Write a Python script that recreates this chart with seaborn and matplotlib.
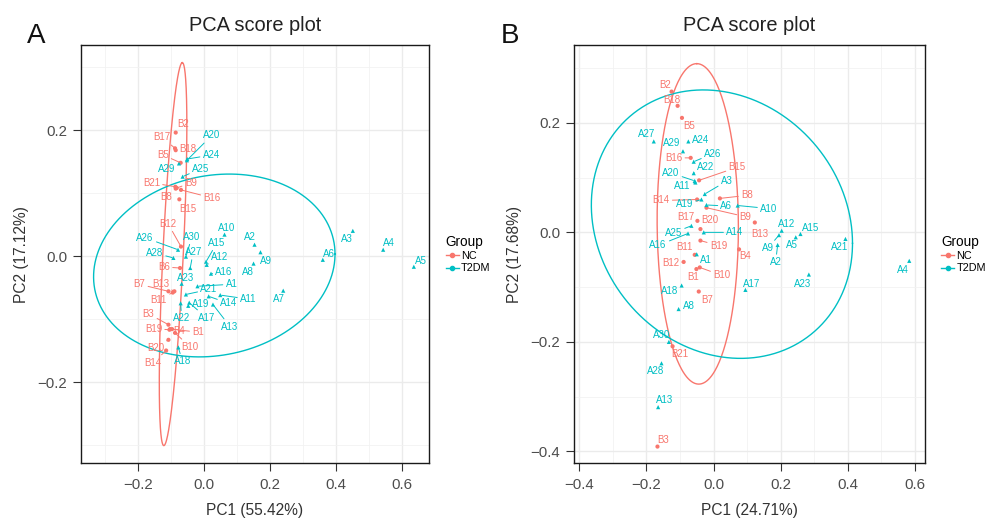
import numpy as np
import pandas as pd
import seaborn as sns
import matplotlib.pyplot as plt
from matplotlib.lines import Line2D

# ---- panel A scores (PC1 55.42%, PC2 17.12%)
a_nc_names = ['B%d' % i for i in range(1, 22)]
a_nc_pc1 = [-0.104, -0.087, -0.109, -0.098, -0.072, -0.074, -0.109, -0.087, -0.084, -0.089, -0.096,
            -0.071, -0.091, -0.116, -0.076, -0.071, -0.089, -0.087, -0.106, -0.109, -0.088]
a_nc_pc2 = [-0.116, 0.196, -0.109, -0.116, 0.148, -0.019, -0.056, 0.107, 0.108, -0.122, -0.058,
            0.015, -0.056, -0.150, 0.090, 0.105, 0.171, 0.168, -0.117, -0.133, 0.110]
a_t2_names = ['A%d' % i for i in range(1, 31)]
a_t2_pc1 = [-0.021, 0.152, 0.450, 0.542, 0.635, 0.359, 0.239, 0.149, 0.170, 0.061, 0.048, 0.007,
            0.026, 0.013, 0.005, 0.020, -0.046, -0.079, -0.049, -0.053, -0.056, -0.072, -0.069,
            -0.052, -0.066, -0.080, -0.043, -0.094, -0.077, -0.056]
a_t2_pc2 = [-0.048, 0.018, 0.040, 0.010, -0.017, -0.006, -0.055, -0.012, 0.006, 0.034, -0.062,
            -0.014, -0.077, -0.064, -0.009, -0.028, -0.074, -0.145, -0.079, 0.152, -0.061, -0.075,
            -0.044, 0.154, 0.126, 0.010, -0.019, -0.003, 0.147, -0.001]

# ---- panel B scores (PC1 24.71%, PC2 17.68%)
b_nc_names = ['B1', 'B2', 'B3', 'B4', 'B5', 'B7', 'B8', 'B9', 'B10', 'B11', 'B12', 'B13', 'B14',
              'B15', 'B16', 'B17', 'B18', 'B19', 'B20', 'B21']
b_nc_pc1 = [-0.051, -0.125, -0.167, 0.076, -0.094, -0.044, 0.019, -0.021, -0.041, -0.056, -0.089,
            0.123, -0.049, -0.043, -0.068, -0.048, -0.107, -0.039, -0.039, -0.122]
b_nc_pc2 = [-0.067, 0.257, -0.391, -0.031, 0.209, -0.108, 0.062, 0.045, -0.064, -0.041, -0.054,
            0.018, 0.060, 0.095, 0.136, 0.021, 0.231, -0.015, 0.006, -0.208]
b_t2_names = ['A1', 'A2', 'A3', 'A4', 'A5', 'A6', 'A8', 'A9', 'A10', 'A11', 'A12', 'A13', 'A14',
              'A15', 'A16', 'A17', 'A18', 'A19', 'A20', 'A21', 'A22', 'A23', 'A24', 'A25', 'A26',
              'A27', 'A28', 'A29', 'A30']
b_t2_pc1 = [-0.050, 0.191, -0.026, 0.583, 0.245, -0.021, -0.104, 0.195, 0.072, -0.054, 0.203,
            -0.165, -0.029, 0.259, -0.076, 0.095, -0.095, -0.036, -0.056, 0.393, -0.059, 0.284,
            -0.075, -0.066, -0.059, -0.178, -0.155, -0.091, -0.133]
b_t2_pc2 = [-0.040, -0.023, 0.070, -0.052, -0.009, 0.050, -0.140, -0.005, 0.049, 0.091, 0.003,
            -0.319, 0.000, -0.003, -0.002, -0.105, -0.097, 0.060, 0.094, -0.012, 0.108, -0.077,
            0.166, 0.012, 0.129, 0.166, -0.239, 0.148, -0.200]

# 95% ellipses: centre, semi-axis vector u, conjugate vector v
ell_a_nc = [(-0.095, 0.003), (0.028, 0.304), (0.031, 0.0)]
ell_a_t2 = [(0.030, -0.015), (0.366, 0.018), (0.0, 0.144)]
ell_b_nc = [(-0.047, 0.0155), (-0.003, 0.2925), (0.121, 0.0)]
ell_b_t2 = [(0.025, 0.015), (0.389, -0.035), (0.0, 0.2425)]

# label nudges in pixels (dx right, dy up) -- layout only
nudge_a = {
    'B1': (28, -3), 'B2': (7, 9), 'B3': (-20, 11), 'B4': (7, -2), 'B5': (-18, 8), 'B6': (-16, 1),
    'B7': (-29, 7), 'B8': (-10, -8), 'B9': (14, 5), 'B10': (15, -14), 'B11': (-14, -7),
    'B12': (-13, 23), 'B13': (-14, 7), 'B14': (-13, -12), 'B15': (8, -10), 'B16': (31, -8),
    'B17': (-13, 11), 'B18': (12, 1), 'B19': (-16, 1), 'B20': (-13, -8), 'B21': (-24, 4),
    'A1': (34, 2), 'A2': (-5, 8), 'A3': (-6, -8), 'A4': (6, 7), 'A5': (7, 6), 'A6': (6, 6),
    'A7': (-4, -8), 'A8': (-6, -8), 'A9': (6, -9), 'A10': (2, 7), 'A11': (28, -4), 'A12': (13, 8),
    'A13': (17, -22), 'A14': (20, -7), 'A15': (11, 19), 'A16': (13, 2), 'A17': (17, -15),
    'A18': (4, -14), 'A19': (12, 2), 'A20': (25, 25), 'A21': (23, 5), 'A22': (1, -15),
    'A23': (4, 6), 'A24': (24, 4), 'A25': (18, 8), 'A26': (-33, 12), 'A27': (3, 16),
    'A28': (-19, 5), 'A29': (-12, -6), 'A30': (6, 20),
}
nudge_b = {
    'B1': (-3, -8), 'B2': (-6, 7), 'B3': (6, 7), 'B4': (6, -7), 'B5': (7, -8), 'B7': (8, -8),
    'B8': (27, 3), 'B9': (39, -9), 'B10': (22, -8), 'B11': (-10, 8), 'B12': (-13, -1),
    'B13': (5, -11), 'B14': (-36, -1), 'B15': (38, 13), 'B16': (-17, 0), 'B17': (-12, 4),
    'B18': (-6, 6), 'B19': (18, -5), 'B20': (9, 9), 'B21': (7, -8),
    'A1': (9, -6), 'A2': (-2, -17), 'A3': (22, 13), 'A4': (-6, -9), 'A5': (-4, -8), 'A6': (20, -1),
    'A8': (10, 3), 'A9': (-11, -13), 'A10': (31, -3), 'A11': (-13, -3), 'A12': (5, 7),
    'A13': (6, 7), 'A14': (31, 0), 'A15': (10, 6), 'A16': (-30, -12), 'A17': (6, 6),
    'A18': (-12, -5), 'A19': (-17, -5), 'A20': (-24, 8), 'A21': (-6, -8), 'A22': (12, 6),
    'A23': (-6, -9), 'A24': (12, 1), 'A25': (-18, -7), 'A26': (19, 8), 'A27': (-7, 7),
    'A28': (-6, -8), 'A29': (-11, 8), 'A30': (-7, 7),
}

colors = {'NC': '#F8766D', 'T2DM': '#00BFC4'}
font = ['Liberation Sans', 'DejaVu Sans']


def make_df(nc_names, nc_x, nc_y, t2_names, t2_x, t2_y):
    nc = pd.DataFrame({'name': nc_names, 'PC1': nc_x, 'PC2': nc_y, 'Group': 'NC'})
    t2 = pd.DataFrame({'name': t2_names, 'PC1': t2_x, 'PC2': t2_y, 'Group': 'T2DM'})
    return pd.concat([nc, t2], ignore_index=True)


def draw_ellipse(ax, params, color):
    (cx, cy), (ux, uy), (vx, vy) = params
    t = np.linspace(0, 2 * np.pi, 300)
    ax.plot(cx + ux * np.cos(t) + vx * np.sin(t), cy + uy * np.cos(t) + vy * np.sin(t),
            color=color, lw=1.0, zorder=2)


def panel(ax, df, nudges, ells, xlim, ylim, xmaj, ymaj, xlab, ylab):
    ax.set_facecolor('white')
    draw_ellipse(ax, ells[0], colors['NC'])
    draw_ellipse(ax, ells[1], colors['T2DM'])
    sns.scatterplot(data=df, x='PC1', y='PC2', hue='Group', style='Group', palette=colors,
                    markers={'NC': 'o', 'T2DM': '^'}, s=9, linewidth=0, legend=False,
                    ax=ax, zorder=3)
    for _, r in df.iterrows():
        dx, dy = nudges.get(r['name'], (6, 6))
        c = colors[r['Group']]
        arrow = None
        if np.hypot(dx, dy) > 13:
            arrow = dict(arrowstyle='-', color=c, lw=0.7, shrinkA=0, shrinkB=1)
        ax.annotate(r['name'], (r['PC1'], r['PC2']), xytext=(dx * 0.72, dy * 0.72),
                    textcoords='offset points', ha='center', va='center', fontsize=7,
                    color=c, family=font, arrowprops=arrow, zorder=4)
    ax.set_xlim(xlim)
    ax.set_ylim(ylim)
    ax.set_xticks(xmaj)
    ax.set_yticks(ymaj)
    xs = np.round(np.arange(xmaj[0] - 0.1, xlim[1], 0.2), 2)
    ys = np.round(np.arange(ymaj[0] - 0.1, ylim[1], 0.2), 2)
    ax.set_xticks([v for v in xs if xlim[0] < v < xlim[1]], minor=True)
    ax.set_yticks([v for v in ys if ylim[0] < v < ylim[1]], minor=True)
    ax.set_xticklabels(['\u22120.%d' % round(abs(v) * 10) if v < 0 else '%.1f' % v for v in xmaj])
    ax.set_yticklabels(['\u22120.%d' % round(abs(v) * 10) if v < 0 else '%.1f' % v for v in ymaj])
    ax.grid(True, which='major', color='#EBEBEB', lw=1.0, zorder=0)
    ax.grid(True, which='minor', color='#F2F2F2', lw=0.6, zorder=0)
    ax.set_axisbelow(True)
    ax.tick_params(which='major', direction='out', length=5.5, width=0.8, color='#333333',
                   labelsize=10.8, labelcolor='#4D4D4D')
    ax.tick_params(axis='x', which='major', pad=5)
    ax.tick_params(axis='y', which='major', pad=4.5)
    ax.tick_params(which='minor', length=0)
    for s in ax.spines.values():
        s.set_color('#1A1A1A')
        s.set_linewidth(1.0)
    ax.set_xlabel(xlab, fontsize=11.2, color='#333333', family=font, labelpad=8)
    ax.set_ylabel(ylab, fontsize=11.2, color='#333333', family=font, labelpad=6)
    ax.set_title('PCA score plot', fontsize=14.4, color='#222222', family=font, pad=10)
    for lab in ax.get_xticklabels() + ax.get_yticklabels():
        lab.set_family(font)
    handles = [Line2D([0], [0], color=colors[g], marker='o', markersize=3, lw=1.0, label=g)
               for g in ['NC', 'T2DM']]
    leg = ax.legend(handles=handles, title='Group', loc='center left', bbox_to_anchor=(1.02, 0.5),
                    frameon=False, handlelength=1.2, handletextpad=0.2, labelspacing=0.2,
                    prop={'family': font, 'size': 7.8}, title_fontproperties={'family': font, 'size': 9.8})
    leg._legend_box.align = 'left'


fig = plt.figure(figsize=(9.86, 5.21), dpi=100)
ax_a = fig.add_axes([0.0822, 0.1108, 0.3529, 0.8028])
ax_b = fig.add_axes([0.5822, 0.1108, 0.3556, 0.8028])

df_a = make_df(a_nc_names, a_nc_pc1, a_nc_pc2, a_t2_names, a_t2_pc1, a_t2_pc2)
df_b = make_df(b_nc_names, b_nc_pc1, b_nc_pc2, b_t2_names, b_t2_pc1, b_t2_pc2)

panel(ax_a, df_a, nudge_a, [ell_a_nc, ell_a_t2], (-0.374, 0.681), (-0.329, 0.335),
      [-0.2, 0.0, 0.2, 0.4, 0.6], [-0.2, 0.0, 0.2], 'PC1 (55.42%)', 'PC2 (17.12%)')
panel(ax_b, df_b, nudge_b, [ell_b_nc, ell_b_t2], (-0.4155, 0.629), (-0.4215, 0.342),
      [-0.4, -0.2, 0.0, 0.2, 0.4, 0.6], [-0.4, -0.2, 0.0, 0.2], 'PC1 (24.71%)', 'PC2 (17.68%)')

fig.text(0.027, 0.93, 'A', fontsize=20, family=font, color='#111111', va='center', ha='left')
fig.text(0.508, 0.93, 'B', fontsize=20, family=font, color='#111111', va='center', ha='left')

fig.savefig('out.png', dpi=100, facecolor='white')
